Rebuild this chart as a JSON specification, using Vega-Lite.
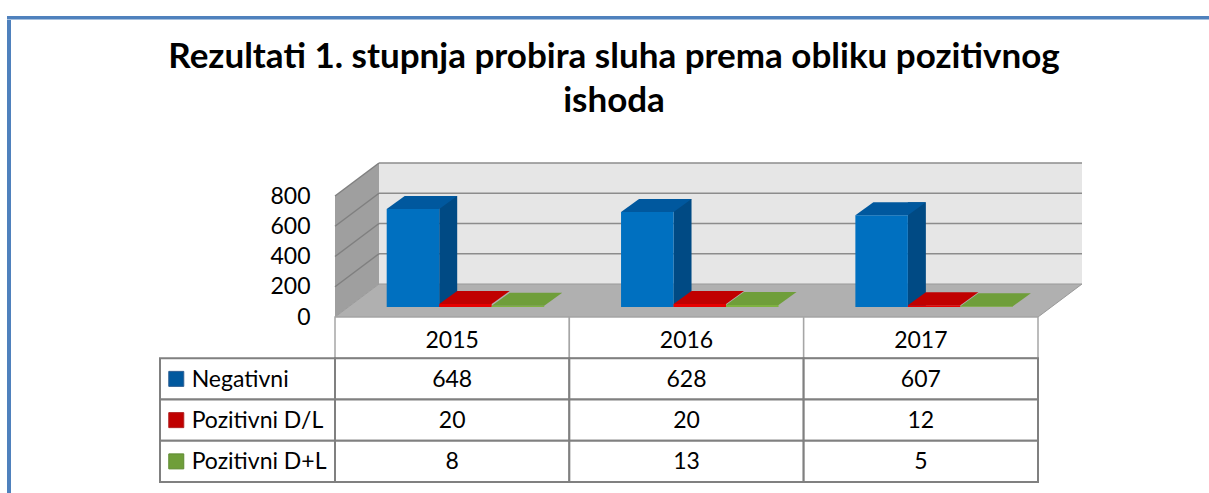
{
  "$schema": "https://vega.github.io/schema/vega-lite/v6.json",
  "background": "white",
  "padding": {"left": 7, "top": 11, "right": 0, "bottom": 0},
  "config": {
    "view": {"stroke": null},
    "font": "Lato",
    "axisY": {"domain": false, "ticks": false, "grid": false, "labelFont": "Lato", "labelFontSize": 23, "labelColor": "#000000", "labelPadding": 25, "labelOverlap": false}
  },
  "resolve": {"scale": {"fill": "independent", "stroke": "independent", "color": "independent"}},
  "datasets": {
    "d": [
      {"year": "2015", "series": "Negativni", "value": 648},
      {"year": "2015", "series": "Pozitivni D/L", "value": 20},
      {"year": "2015", "series": "Pozitivni D+L", "value": 8},
      {"year": "2016", "series": "Negativni", "value": 628},
      {"year": "2016", "series": "Pozitivni D/L", "value": 20},
      {"year": "2016", "series": "Pozitivni D+L", "value": 13},
      {"year": "2017", "series": "Negativni", "value": 607},
      {"year": "2017", "series": "Pozitivni D/L", "value": 12},
      {"year": "2017", "series": "Pozitivni D+L", "value": 5}
    ],
    "grid": [{"v": 200}, {"v": 400}, {"v": 600}, {"v": 800}]
  },
  "spacing": 0,
  "bounds": "flush",
  "vconcat": [
    {
      "width": 1202,
      "height": 3.5,
      "view": {"fill": "#4f81bd", "stroke": null},
      "data": {"values": [{}]},
      "mark": {"type": "text", "text": ""},
      "encoding": {}
    },
    {
      "spacing": 324,
      "bounds": "flush",
      "hconcat": [
        {
          "width": 4,
          "height": 478.5,
          "view": {"fill": "#4f81bd", "stroke": null},
          "data": {"values": [{}]},
          "mark": {"type": "text", "text": ""},
          "encoding": {}
        },
        {
          "spacing": 0,
          "bounds": "flush",
          "vconcat": [
            {
              "width": 703,
              "height": 175.5,
              "title": {
                "text": ["Rezultati 1. stupnja probira sluha prema obliku pozitivnog", "ishoda"],
                "font": "Lato", "fontSize": 35, "fontWeight": "bold", "color": "#000000",
                "lineHeight": 44, "anchor": "middle", "offset": -98.5, "dx": -72.5
              },
              "data": {"values": [{}]},
              "mark": {"type": "text", "text": ""},
              "encoding": {}
            },
            {
              "width": 703,
              "height": 121,
              "layer": [
                {
                  "data": {"values": [{}]},
                  "mark": {"type": "rect", "fill": "#e6e6e6", "xOffset": 44, "x2Offset": 44, "yOffset": -33, "y2Offset": -33},
                  "encoding": {
                    "x": {"datum": "2015", "type": "nominal", "bandPosition": 0, "scale": {"type": "band", "domain": ["2015", "2016", "2017"], "paddingInner": 0, "paddingOuter": 0}, "axis": null},
                    "x2": {"datum": "2017", "bandPosition": 1},
                    "y": {"datum": 800, "type": "quantitative", "scale": {"domain": [0, 800], "nice": false}, "title": null, "axis": {"values": [0, 200, 400, 600, 800], "labelOverlap": false}},
                    "y2": {"datum": 0}
                  }
                },
                {
                  "data": {"name": "grid"},
                  "mark": {"type": "rule", "color": "#8c8c8c", "strokeWidth": 1.5, "xOffset": 44, "x2Offset": 44, "yOffset": -33},
                  "encoding": {
                    "x": {"datum": "2015", "type": "nominal", "bandPosition": 0, "axis": null},
                    "x2": {"datum": "2017", "bandPosition": 1},
                    "y": {"field": "v", "type": "quantitative", "title": null, "axis": {"values": [0, 200, 400, 600, 800], "labelOverlap": false}}
                  }
                },
                {
                  "data": {"values": [{}]},
                  "mark": {"type": "point", "shape": "M0,0 L0,-121 L44,-154 L44,-33 Z", "size": 4, "filled": true, "fill": "#9f9f9f", "opacity": 1, "strokeWidth": 0},
                  "encoding": {
                    "x": {"datum": "2015", "type": "nominal", "bandPosition": 0, "axis": null},
                    "y": {"datum": 0, "type": "quantitative", "title": null, "axis": {"values": [0, 200, 400, 600, 800], "labelOverlap": false}}
                  }
                },
                {
                  "data": {"name": "grid"},
                  "mark": {"type": "rule", "color": "#808080", "strokeWidth": 1.5, "x2Offset": 44, "y2Offset": -33},
                  "encoding": {
                    "x": {"datum": "2015", "type": "nominal", "bandPosition": 0, "axis": null},
                    "x2": {"datum": "2015", "bandPosition": 0},
                    "y": {"field": "v", "type": "quantitative", "title": null, "axis": {"values": [0, 200, 400, 600, 800], "labelOverlap": false}},
                    "y2": {"field": "v"}
                  }
                },
                {
                  "data": {"values": [{}]},
                  "mark": {"type": "point", "shape": "M0,0 L703,0 L747,-33 L44,-33 Z", "size": 4, "filled": true, "fill": "#b0b0b0", "opacity": 1, "stroke": "#999999", "strokeWidth": 1},
                  "encoding": {
                    "x": {"datum": "2015", "type": "nominal", "bandPosition": 0, "axis": null},
                    "y": {"datum": 0, "type": "quantitative", "title": null, "axis": {"values": [0, 200, 400, 600, 800], "labelOverlap": false}}
                  }
                },
                {
                  "data": {"name": "d"},
                  "transform": [{"filter": "datum.series === 'Negativni'"}],
                  "mark": {"type": "bar", "width": 18, "xOffset": -3.97, "yOffset": -23, "y2Offset": -10, "fill": "#004a84"},
                  "encoding": {
                    "x": {"field": "year", "type": "nominal", "axis": null},
                    "y": {"field": "value", "type": "quantitative", "title": null, "axis": {"values": [0, 200, 400, 600, 800], "labelOverlap": false}},
                    "y2": {"datum": 0}
                  }
                },
                {
                  "data": {"name": "d"},
                  "mark": {"type": "bar", "yOffset": -10, "y2Offset": -10},
                  "encoding": {
                    "x": {"field": "year", "type": "nominal", "axis": null},
                    "xOffset": {"field": "series", "type": "nominal", "sort": null, "scale": {"type": "band", "domain": ["Negativni", "Pozitivni D/L", "Pozitivni D+L"], "paddingInner": 0, "paddingOuter": 0.7317, "align": 0.673}},
                    "y": {"field": "value", "type": "quantitative", "title": null, "axis": {"values": [0, 200, 400, 600, 800], "labelOverlap": false}},
                    "y2": {"datum": 0},
                    "color": {"field": "series", "type": "nominal", "scale": {"domain": ["Negativni", "Pozitivni D/L", "Pozitivni D+L"], "range": ["#0070c0", "#e60000", "#7fb241"]}, "legend": null}
                  }
                },
                {
                  "data": {"name": "d"},
                  "mark": {"type": "point", "shape": "M-26.25,0 L26.25,0 L44.25,-13 L-8.25,-13 Z", "size": 4, "filled": true, "opacity": 1, "strokeWidth": 0, "yOffset": -10},
                  "encoding": {
                    "x": {"field": "year", "type": "nominal", "axis": null},
                    "xOffset": {"field": "series", "type": "nominal", "sort": null},
                    "y": {"field": "value", "type": "quantitative", "title": null, "axis": {"values": [0, 200, 400, 600, 800], "labelOverlap": false}},
                    "fill": {"field": "series", "type": "nominal", "scale": {"domain": ["Negativni", "Pozitivni D/L", "Pozitivni D+L"], "range": ["#00589e", "#c00000", "#6f9e3a"]}, "legend": null}
                  }
                }
              ]
            },
            {
              "width": 703,
              "height": 165,
              "data": {"name": "d"},
              "layer": [
                {
                  "transform": [{"filter": "datum.series === 'Negativni'"}],
                  "mark": {"type": "rect", "fill": "white", "stroke": "#a6a6a6", "strokeWidth": 1.5},
                  "encoding": {
                    "x": {"field": "year", "type": "nominal", "scale": {"type": "band", "domain": ["2015", "2016", "2017"], "paddingInner": 0, "paddingOuter": 0}, "axis": null},
                    "y": {"datum": "hdr", "type": "nominal", "scale": {"type": "band", "domain": ["hdr", "Negativni", "Pozitivni D/L", "Pozitivni D+L"], "paddingInner": 0, "paddingOuter": 0}, "axis": null}
                  }
                },
                {
                  "mark": {"type": "rect", "fill": "white", "stroke": "#808080", "strokeWidth": 2},
                  "encoding": {
                    "x": {"field": "year", "type": "nominal", "axis": null},
                    "y": {"field": "series", "type": "nominal", "axis": null}
                  }
                },
                {
                  "transform": [{"filter": "datum.year === '2015'"}],
                  "mark": {"type": "rect", "width": 175, "xOffset": -204.67, "fill": "white", "stroke": "#808080", "strokeWidth": 2},
                  "encoding": {
                    "x": {"datum": "2015", "type": "nominal", "axis": null},
                    "y": {"field": "series", "type": "nominal", "axis": null}
                  }
                },
                {
                  "transform": [{"filter": "datum.year === '2015'"}],
                  "mark": {"type": "point", "shape": "square", "size": 225, "filled": true, "opacity": 1, "strokeWidth": 1, "xOffset": -275.9},
                  "encoding": {
                    "x": {"datum": "2015", "type": "nominal", "axis": null},
                    "y": {"field": "series", "type": "nominal", "axis": null},
                    "fill": {"field": "series", "type": "nominal", "scale": {"domain": ["Negativni", "Pozitivni D/L", "Pozitivni D+L"], "range": ["#0070c0", "#ff0000", "#92d050"]}, "legend": null},
                    "stroke": {"field": "series", "type": "nominal", "scale": {"domain": ["Negativni", "Pozitivni D/L", "Pozitivni D+L"], "range": ["#2e5f93", "#b02020", "#5f8a32"]}, "legend": null}
                  }
                },
                {
                  "transform": [{"filter": "datum.year === '2015'"}],
                  "mark": {"type": "text", "align": "left", "baseline": "middle", "dx": -260.5, "dy": 1, "font": "Lato", "fontSize": 23, "color": "#000000"},
                  "encoding": {
                    "x": {"datum": "2015", "type": "nominal", "axis": null},
                    "y": {"field": "series", "type": "nominal", "axis": null},
                    "text": {"field": "series"}
                  }
                },
                {
                  "mark": {"type": "text", "align": "center", "baseline": "middle", "dy": 1, "font": "Lato", "fontSize": 23, "color": "#000000"},
                  "encoding": {
                    "x": {"field": "year", "type": "nominal", "axis": null},
                    "y": {"field": "series", "type": "nominal", "axis": null},
                    "text": {"field": "value", "type": "quantitative"}
                  }
                },
                {
                  "transform": [{"filter": "datum.series === 'Negativni'"}],
                  "mark": {"type": "text", "align": "center", "baseline": "middle", "dy": 3, "font": "Lato", "fontSize": 23, "color": "#000000"},
                  "encoding": {
                    "x": {"field": "year", "type": "nominal", "axis": null},
                    "y": {"datum": "hdr", "type": "nominal", "axis": null},
                    "text": {"field": "year"}
                  }
                }
              ]
            }
          ]
        }
      ]
    }
  ]
}
